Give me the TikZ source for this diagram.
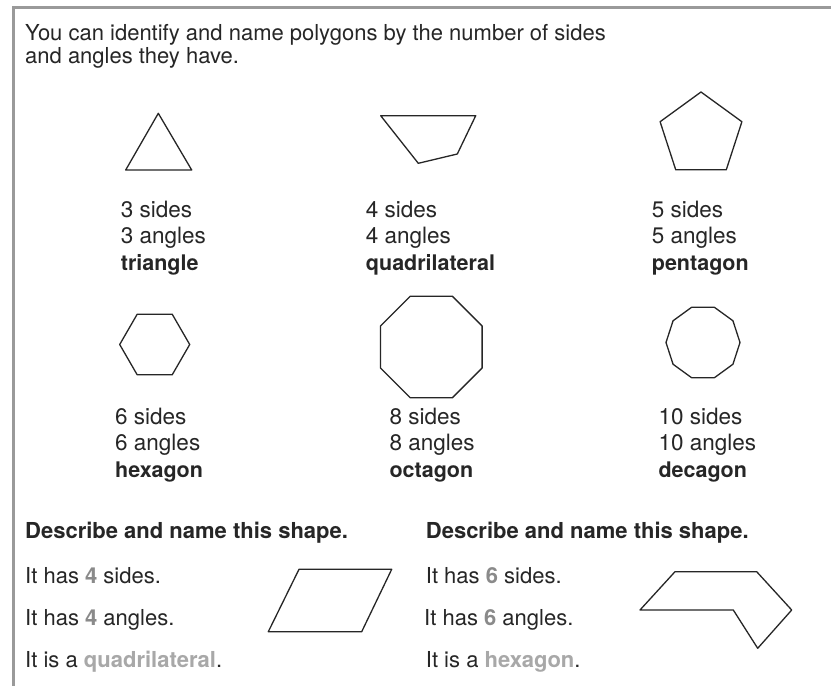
\documentclass[tikz,border=0pt]{standalone}
\usepackage{fontspec}
\setmainfont{TeX Gyre Heros}
\definecolor{ink}{HTML}{262626}
\definecolor{framegray}{HTML}{9A9A9A}
\definecolor{ansnum}{HTML}{8A8A8A}
\definecolor{answord}{HTML}{A8A8A8}
\begin{document}
\begin{tikzpicture}[x=1pt,y=-1pt,
  txt/.style={anchor=base west, inner sep=0pt, text=ink, font=\fontsize{22}{26}\selectfont},
  lbl/.style={anchor=base west, inner sep=0pt, text=ink, font=\fontsize{22.5}{26}\selectfont},
  blbl/.style={anchor=base west, inner sep=0pt, text=ink, font=\fontsize{21.5}{26}\selectfont\bfseries},
  head/.style={anchor=base west, inner sep=0pt, text=ink, font=\fontsize{22}{26}\selectfont\bfseries},
  poly/.style={draw=ink, line width=1.3pt, line join=round},
  frameline/.style={draw=framegray, line width=3pt}
]
\useasboundingbox (0,0) rectangle (831,686);
\fill[white] (0,0) rectangle (831,686);
\draw[frameline] (831,7) -- (13,7) -- (13,686);

% header
\node[txt] (h1) at (25,40) {You can identify and name polygons by the number of sides};
\node[txt] (h2) at (25,63) {and angles they have.};

% triangle
\draw[poly] (158.3,113.3) -- (191.7,170) -- (125.7,170) -- cycle;
\node[lbl] (t1) at (120.7,217) {3 sides};
\node[lbl] (t2) at (120.7,243.5) {3 angles};
\node[blbl] (t3) at (120.7,270) {triangle};

% quadrilateral
\draw[poly] (380.7,115.7) -- (475.7,115.7) -- (457.3,154) -- (418.3,163.3) -- cycle;
\node[lbl] (q1) at (365.7,217) {4 sides};
\node[lbl] (q2) at (365.7,243.5) {4 angles};
\node[blbl] (q3) at (365.7,270) {quadrilateral};

% pentagon
\draw[poly, shift={(701,135)}] (270:43) -- (342:43) -- (54:43) -- (126:43) -- (198:43) -- cycle;
\node[lbl] (p1) at (651.7,217) {5 sides};
\node[lbl] (p2) at (651.7,243.5) {5 angles};
\node[blbl] (p3) at (651.7,270) {pentagon};

% hexagon
\draw[poly, shift={(154.7,344.5)}] (0:35) -- (60:35) -- (120:35) -- (180:35) -- (240:35) -- (300:35) -- cycle;
\node[lbl] (x1) at (115,424) {6 sides};
\node[lbl] (x2) at (115,450.5) {6 angles};
\node[blbl] (x3) at (115,477) {hexagon};

% octagon
\draw[poly, shift={(431.3,347)}] (22.5:55) -- (67.5:55) -- (112.5:55) -- (157.5:55) -- (202.5:55) -- (247.5:55) -- (292.5:55) -- (337.5:55) -- cycle;
\node[lbl] (o1) at (389.3,424) {8 sides};
\node[lbl] (o2) at (389.3,450.5) {8 angles};
\node[blbl] (o3) at (389.3,477) {octagon};

% decagon
\draw[poly, shift={(703,342.5)}] (0:37) -- (36:37) -- (72:37) -- (108:37) -- (144:37) -- (180:37) -- (216:37) -- (252:37) -- (288:37) -- (324:37) -- cycle;
\node[lbl] (d1) at (658.3,424) {10 sides};
\node[lbl] (d2) at (658.3,450.5) {10 angles};
\node[blbl] (d3) at (658.3,477) {decagon};

% bottom left exercise
\node[head] (la) at (25,538) {Describe and name this shape.};
\node[txt] (lb) at (25,583) {It has \textcolor{ansnum}{\bfseries 4} sides.};
\node[txt] (lc) at (25,625) {It has \textcolor{ansnum}{\bfseries 4} angles.};
\node[txt] (ld) at (25,667) {It is a \textcolor{answord}{\bfseries quadrilateral}.};
\draw[poly] (299,569.3) -- (391.7,569.3) -- (361.7,631.7) -- (268.3,631.7) -- cycle;

% bottom right exercise
\node[head] (ra) at (425.7,538) {Describe and name this shape.};
\node[txt] (rb) at (425.7,583) {It has \textcolor{ansnum}{\bfseries 6} sides.};
\node[txt] (rc) at (424,625) {It has \textcolor{ansnum}{\bfseries 6} angles.};
\node[txt] (rd) at (425.7,667) {It is a \textcolor{answord}{\bfseries hexagon}.};
\draw[poly] (675,571.7) -- (756.7,571.7) -- (791.7,610) -- (757.7,648.3) -- (733.3,610) -- (640,610) -- cycle;
\end{tikzpicture}
\end{document}
